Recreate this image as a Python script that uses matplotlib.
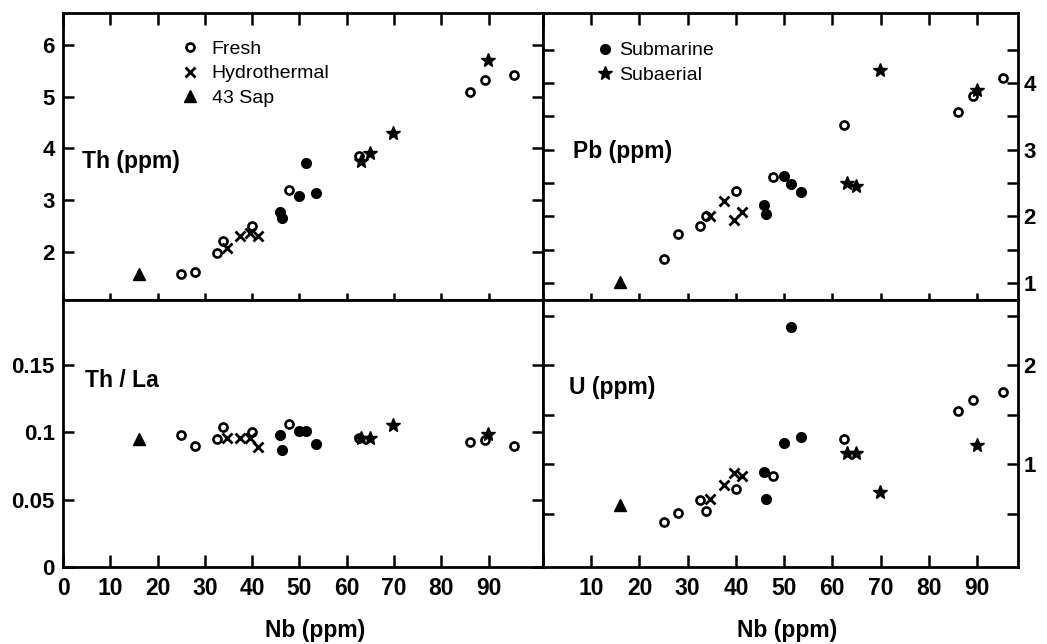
import matplotlib
matplotlib.use("Agg")
import matplotlib.pyplot as plt

plt.rcParams["font.family"] = ["Liberation Sans", "DejaVu Sans"]

NB_TICKS = [0, 10, 20, 30, 40, 50, 60, 70, 80, 90]

# 43 Sap
SAP_NB = [16.0]
SAP_TH = [1.57]
SAP_PB = [1.01]
SAP_THLA = [0.095]
SAP_U = [0.59]

# Fresh
FRESH_NB = [25.0, 28.0, 32.6, 33.8, 40.0, 47.7, 62.5, 86.0, 89.2, 95.3]
FRESH_TH = [1.57, 1.61, 1.97, 2.21, 2.50, 3.20, 3.86, 5.10, 5.33, 5.43]
FRESH_PB = [1.36, 1.73, 1.86, 2.00, 2.38, 2.59, 3.37, 3.57, 3.80, 4.07]
FRESH_THLA = [0.098, 0.0895, 0.095, 0.104, 0.100, 0.106, 0.0955, 0.093, 0.094, 0.0895]
FRESH_U = [0.415, 0.51, 0.64, 0.53, 0.75, 0.88, 1.25, 1.54, 1.65, 1.73]

# Hydrothermal
HYDRO_NB = [34.6, 37.5, 39.6, 41.2]
HYDRO_TH = [2.08, 2.30, 2.37, 2.30]
HYDRO_PB = [2.01, 2.23, 1.95, 2.07]
HYDRO_THLA = [0.0955, 0.0955, 0.0955, 0.089]
HYDRO_U = [0.65, 0.79, 0.91, 0.88]

# Submarine
SUBM_NB = [45.8, 46.3, 50.0, 51.4, 53.4]
SUBM_TH = [2.77, 2.65, 3.09, 3.71, 3.13]
SUBM_PB = [2.17, 2.04, 2.61, 2.49, 2.36]
SUBM_THLA = [0.098, 0.0865, 0.101, 0.101, 0.091]
SUBM_U = [0.92, 0.65, 1.21, 2.39, 1.27]

# Subaerial
SUBA_NB = [63.1, 65.0, 69.8, 89.9]
SUBA_TH = [3.76, 3.92, 4.30, 5.72]
SUBA_PB = [2.50, 2.46, 4.19, 3.89]
SUBA_THLA = [0.0955, 0.096, 0.1055, 0.0985]
SUBA_U = [1.11, 1.11, 0.72, 1.19]

LW = 2.0
TICK_W = 1.8


def scatter_all(ax, sap, fresh, hydro, subm, suba):
    ax.plot(FRESH_NB, fresh, "o", ms=5.8, mfc="white", mec="black", mew=1.9,
            ls="none", label="Fresh")
    ax.plot(HYDRO_NB, hydro, "x", ms=6.5, mec="black", mew=2.0, ls="none",
            label="Hydrothermal")
    ax.plot(SAP_NB, sap, "^", ms=8, color="black", ls="none", label="43 Sap")
    ax.plot(SUBM_NB, subm, "o", ms=7, color="black", ls="none", label="Submarine")
    ax.plot(SUBA_NB, suba, "*", ms=10, color="black", ls="none", label="Subaerial")


def style(ax, top_row, left_col):
    for s in ax.spines.values():
        s.set_linewidth(LW)
    ax.set_xticks(NB_TICKS)
    ax.tick_params(axis="y", which="both", direction="in", left=True, right=True,
                   length=8, width=TICK_W, labelsize=16)
    if left_col:
        ax.tick_params(axis="y", labelleft=True, labelright=False, pad=6)
    else:
        ax.tick_params(axis="y", labelleft=False, labelright=True, pad=4)
    for lab in ax.get_yticklabels():
        lab.set_fontweight("bold")
    if top_row:
        ax.tick_params(axis="x", direction="in", top=True, bottom=False,
                       length=8.5, width=TICK_W, labelbottom=False)
        sec = ax.secondary_xaxis("bottom")
        sec.set_xticks(NB_TICKS)
        sec.tick_params(direction="inout", length=10, width=TICK_W,
                        labelbottom=False)
        sec.spines["bottom"].set_linewidth(LW)
    else:
        ax.tick_params(axis="x", direction="in", top=False, bottom=True,
                       length=8.5, width=TICK_W, labelsize=16.5, pad=7)
        if left_col:
            ax.set_xticklabels([str(t) for t in NB_TICKS])
        else:
            ax.set_xticklabels([""] + [str(t) for t in NB_TICKS[1:]])
        for lab in ax.get_xticklabels():
            lab.set_fontweight("bold")
        ax.set_xlabel("Nb (ppm)", fontsize=16.5, fontweight="bold")


W, H = 1047, 644
fig = plt.figure(figsize=(W / 100, H / 100), dpi=100)

x_l, x_m, x_r = 63, 543, 1018
y_t, y_m, y_b = 13, 300, 567


def rect(x0, x1, y0, y1):
    return [x0 / W, 1 - y1 / H, (x1 - x0) / W, (y1 - y0) / H]


ax_th = fig.add_axes(rect(x_l, x_m, y_t, y_m))
ax_pb = fig.add_axes(rect(x_m, x_r, y_t, y_m))
ax_tl = fig.add_axes(rect(x_l, x_m, y_m, y_b))
ax_u = fig.add_axes(rect(x_m, x_r, y_m, y_b))

scatter_all(ax_th, SAP_TH, FRESH_TH, HYDRO_TH, SUBM_TH, SUBA_TH)
scatter_all(ax_pb, SAP_PB, FRESH_PB, HYDRO_PB, SUBM_PB, SUBA_PB)
scatter_all(ax_tl, SAP_THLA, FRESH_THLA, HYDRO_THLA, SUBM_THLA, SUBA_THLA)
scatter_all(ax_u, SAP_U, FRESH_U, HYDRO_U, SUBM_U, SUBA_U)

for ax in (ax_th, ax_tl):
    ax.set_xlim(0, 101.5)
for ax in (ax_pb, ax_u):
    ax.set_xlim(0.8, 98.5)

ax_th.set_ylim(1.07, 6.62)
ax_th.set_yticks([2, 3, 4, 5, 6])

ax_pb.set_ylim(0.745, 5.05)
ax_pb.set_yticks([1, 2, 3, 4])
ax_pb.set_yticks([1.5, 2.5, 3.5, 4.5], minor=True)

ax_tl.set_ylim(0, 0.198)
ax_tl.set_yticks([0, 0.05, 0.1, 0.15])
ax_tl.set_yticklabels(["0", "0.05", "0.1", "0.15"])

ax_u.set_ylim(-0.04, 2.66)
ax_u.set_yticks([1, 2])
ax_u.set_yticks([0.5, 1.5, 2.5], minor=True)

style(ax_th, True, True)
style(ax_pb, True, False)
style(ax_tl, False, True)
style(ax_u, False, False)

ax_tl.xaxis.set_label_coords((315 - x_l) / (x_m - x_l), -0.195)
ax_u.xaxis.set_label_coords((787 - x_m) / (x_r - x_m), -0.195)

lab_kw = dict(fontsize=16.5, fontweight="bold", va="center", ha="left")
ax_th.text(0.040, 0.481, "Th (ppm)", transform=ax_th.transAxes, **lab_kw)
ax_pb.text(0.063, 0.516, "Pb (ppm)", transform=ax_pb.transAxes, **lab_kw)
ax_tl.text(0.046, 0.700, "Th / La", transform=ax_tl.transAxes, **lab_kw)
ax_u.text(0.055, 0.674, "U (ppm)", transform=ax_u.transAxes, **lab_kw)

h, l = ax_th.get_legend_handles_labels()
ax_th.legend(h[:3], l[:3], loc="upper left", bbox_to_anchor=(0.245, 0.905),
             frameon=False, fontsize=14, handlelength=1.0, handletextpad=0.6,
             labelspacing=0.36, borderpad=0, borderaxespad=0)
h, l = ax_pb.get_legend_handles_labels()
ax_pb.legend(h[3:], l[3:], loc="upper left", bbox_to_anchor=(0.111, 0.900),
             frameon=False, fontsize=14, handlelength=1.0, handletextpad=0.22,
             labelspacing=0.36, borderpad=0, borderaxespad=0)

fig.savefig("out.png", dpi=100)
